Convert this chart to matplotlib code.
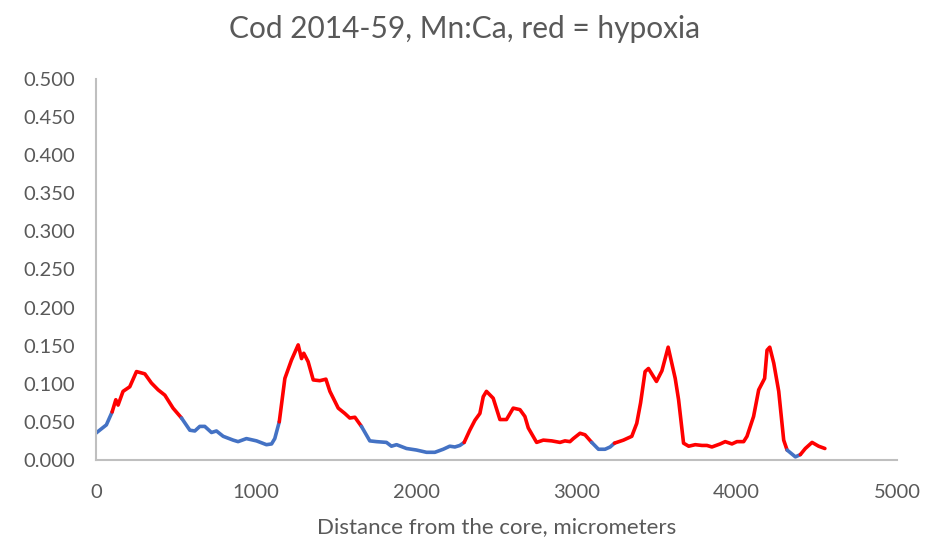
import matplotlib
matplotlib.use("Agg")
import matplotlib.pyplot as plt
import numpy as np
from matplotlib.ticker import FormatStrFormatter

# distance from the core (micrometers) and Mn:Ca ratio
distance = [
    0, 66, 102, 125, 139, 170, 212, 254, 306, 347, 389, 431, 482, 535,
    587, 618, 649, 680, 722, 753, 795, 857, 888, 940, 1003, 1065, 1097, 1117,
    1145, 1180, 1221, 1263, 1284, 1298, 1325, 1357, 1398, 1436, 1461, 1513,
    1554, 1585, 1617, 1658,
    1710, 1752, 1814, 1845, 1877, 1939, 2001, 2064, 2116, 2168, 2209, 2241,
    2272, 2299,
    2334, 2366, 2397, 2418, 2438, 2480, 2522, 2563, 2605, 2647, 2678, 2699,
    2751, 2793, 2845, 2897, 2928, 2959, 2980, 3022, 3053, 3095,
    3137, 3178, 3210, 3237,
    3293, 3345, 3376, 3400, 3428, 3449, 3499, 3533, 3572, 3616, 3637, 3668,
    3700, 3741, 3783, 3814, 3845, 3897, 3928, 3970, 4001, 4043, 4064, 4105,
    4137, 4174, 4189, 4206, 4231, 4262, 4293, 4314,
    4366, 4397,
    4428, 4470, 4511, 4550,
]
mn_ca = [
    0.035, 0.046, 0.063, 0.079, 0.072, 0.090, 0.096, 0.116, 0.113, 0.101,
    0.092, 0.085, 0.068, 0.055,
    0.039, 0.038, 0.044, 0.044, 0.036, 0.038, 0.031, 0.026, 0.024, 0.028,
    0.025, 0.020, 0.021, 0.028,
    0.050, 0.107, 0.131, 0.151, 0.133, 0.140, 0.129, 0.105, 0.104, 0.106,
    0.090, 0.068, 0.061, 0.055, 0.056, 0.044,
    0.025, 0.024, 0.023, 0.018, 0.020, 0.015, 0.013, 0.010, 0.010, 0.014,
    0.018, 0.017, 0.019, 0.023,
    0.039, 0.052, 0.061, 0.083, 0.090, 0.081, 0.053, 0.053, 0.068, 0.066,
    0.057, 0.042, 0.023, 0.026, 0.025, 0.023, 0.025, 0.024, 0.028, 0.035,
    0.033, 0.023,
    0.014, 0.014, 0.017, 0.022,
    0.026, 0.031, 0.048, 0.075, 0.116, 0.120, 0.103, 0.117, 0.148, 0.107,
    0.079, 0.022, 0.018, 0.020, 0.019, 0.019, 0.017, 0.021, 0.024, 0.021,
    0.024, 0.024, 0.031, 0.057, 0.092, 0.107, 0.144, 0.148, 0.127, 0.090,
    0.026, 0.013,
    0.004, 0.007,
    0.015, 0.023, 0.018, 0.015,
]
# hypoxic stretches (start, end) in micrometers, drawn in red
hypoxia_spans = [(102, 535), (1145, 1658), (2299, 3095), (3237, 4314), (4397, 4550)]

x_ticks = [0, 1000, 2000, 3000, 4000, 5000]
y_ticks = [0.0, 0.05, 0.10, 0.15, 0.20, 0.25, 0.30, 0.35, 0.40, 0.45, 0.50]

BLUE = "#4472C4"
RED = "#FF0000"
TEXT = "#595959"
AXIS = "#BFBFBF"

plt.rcParams["font.family"] = ["Lato", "DejaVu Sans"]

fig = plt.figure(figsize=(9.3, 5.43), dpi=100)
ax = fig.add_axes([0.103, 0.153, 0.8615, 0.7015])

x = np.array(distance)
y = np.array(mn_ca)
in_span = np.array([any(a <= v <= b for a, b in hypoxia_spans) for v in x])
# a segment is red when both of its end points lie in a hypoxic stretch
seg_red = in_span[:-1] & in_span[1:]

start = 0
for i in range(1, len(seg_red) + 1):
    if i == len(seg_red) or seg_red[i] != seg_red[start]:
        color = RED if seg_red[start] else BLUE
        ax.plot(x[start:i + 1], y[start:i + 1], color=color, lw=2.6,
                solid_joinstyle="round", solid_capstyle="round")
        start = i

ax.set_xlim(0, 5000)
ax.set_ylim(0, 0.5)
ax.set_xticks(x_ticks)
ax.set_yticks(y_ticks)
ax.yaxis.set_major_formatter(FormatStrFormatter("%.3f"))
ax.tick_params(length=0, labelsize=14.5, labelcolor=TEXT)
ax.tick_params(axis="x", pad=17)
ax.tick_params(axis="y", pad=15)

for side in ("top", "right"):
    ax.spines[side].set_visible(False)
for side in ("left", "bottom"):
    ax.spines[side].set_color(AXIS)
    ax.spines[side].set_linewidth(1.5)

ax.set_xlabel("Distance from the core, micrometers", fontsize=16,
              color=TEXT, labelpad=12)
fig.suptitle("Cod 2014-59, Mn:Ca, red = hypoxia", fontsize=21.5, color=TEXT,
             y=0.972)

fig.savefig("out.png", dpi=100)
